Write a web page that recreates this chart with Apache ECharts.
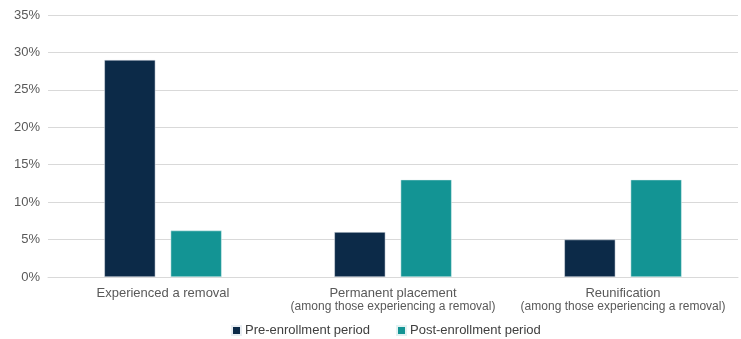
<!DOCTYPE html>
<html>
<head>
<meta charset="utf-8">
<script src="https://cdn.jsdelivr.net/npm/echarts@6/dist/echarts.min.js"></script>
<style>
  html, body { margin: 0; padding: 0; background: #fff; }
  #chart { width: 741px; height: 339px; }
</style>
</head>
<body>
<div id="chart"></div>
<script>
// Outcome categories (main label + optional sub-label)
const categories = ['Experienced a removal', 'Permanent placement', 'Reunification'];
const subLabels = ['', '(among those experiencing a removal)', '(among those experiencing a removal)'];

// Percent of families in each period
const preEnrollment = [29, 6, 5];
const postEnrollment = [6.2, 13, 13];

// Y-axis ticks
const yMin = 0;
const yMax = 35;
const yStep = 5;

const chart = echarts.init(document.getElementById('chart'), null, { renderer: 'canvas' });

const font = 'Liberation Sans, Arial, Helvetica, sans-serif';

chart.setOption({
  animation: false,
  textStyle: { fontFamily: font },
  grid: { left: 48, right: 3, top: 15, bottom: 62, containLabel: false },
  legend: {
    bottom: -3,
    left: 226,
    itemWidth: 9,
    itemHeight: 9,
    itemGap: 26,
    icon: 'rect',
    textStyle: { fontFamily: font, fontSize: 13, color: '#404040', padding: [0, 0, 0, -1] },
    data: ['Pre-enrollment period', 'Post-enrollment period']
  },
  xAxis: {
    type: 'category',
    data: categories.map((c, i) => subLabels[i] ? c + '\n{sub|' + subLabels[i] + '}' : c),
    axisLine: { show: true, lineStyle: { color: '#d9d9d9', width: 1 } },
    axisTick: { show: false },
    axisLabel: {
      interval: 0,
      margin: 10,
      color: '#595959',
      fontSize: 13,
      fontFamily: font,
      lineHeight: 13,
      rich: {
        sub: { fontSize: 12, color: '#595959', fontFamily: font, lineHeight: 13 }
      }
    }
  },
  yAxis: {
    type: 'value',
    min: yMin,
    max: yMax,
    interval: yStep,
    axisLine: { show: false },
    axisTick: { show: false },
    splitLine: { lineStyle: { color: '#d9d9d9', width: 1 } },
    axisLabel: {
      margin: 8,
      color: '#595959',
      fontSize: 13,
      fontFamily: font,
      formatter: v => v + '%'
    }
  },
  series: [
    {
      name: 'Pre-enrollment period',
      type: 'bar',
      data: preEnrollment,
      barWidth: 51,
      barGap: '30%',
      itemStyle: { color: '#0c2a48', borderColor: '#e8edf2', borderWidth: 0.5 }
    },
    {
      name: 'Post-enrollment period',
      type: 'bar',
      data: postEnrollment,
      barWidth: 51,
      barGap: '30%',
      itemStyle: { color: '#139494', borderColor: '#e3f2f2', borderWidth: 0.5 }
    }
  ]
});
</script>
</body>
</html>
